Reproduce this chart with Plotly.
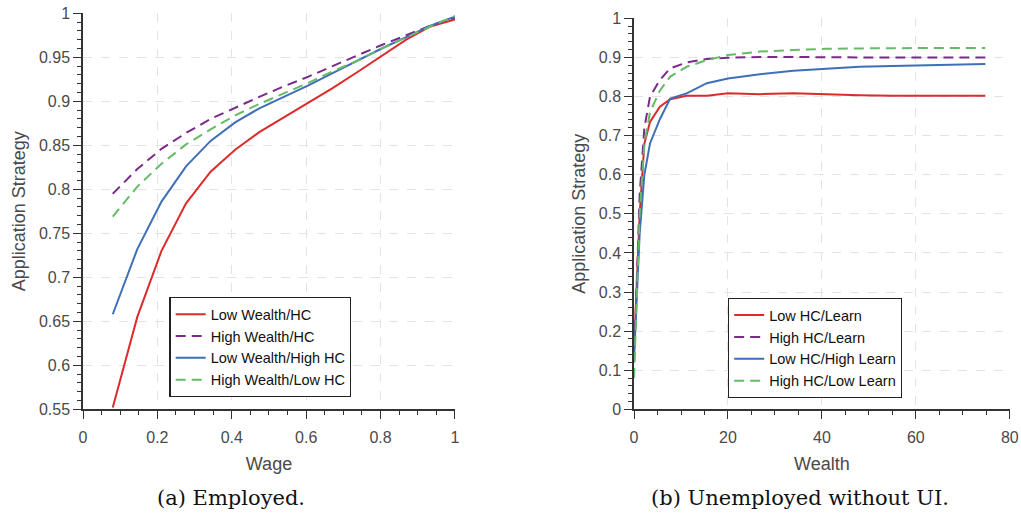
import plotly.graph_objects as go

# Panel (a): Employed
wage = [0.08, 0.146, 0.211, 0.277, 0.343, 0.409, 0.474, 0.54, 0.606, 0.671, 0.737, 0.803, 0.869, 0.934, 1.0]
a_low_wealth_hc = [0.552, 0.655, 0.730, 0.784, 0.820, 0.845, 0.865, 0.882, 0.898, 0.915, 0.933, 0.952, 0.970, 0.985, 0.993]
a_high_wealth_hc = [0.795, 0.823, 0.846, 0.864, 0.880, 0.893, 0.905, 0.917, 0.928, 0.940, 0.952, 0.964, 0.975, 0.986, 0.995]
a_low_wealth_high_hc = [0.658, 0.732, 0.786, 0.826, 0.855, 0.876, 0.892, 0.905, 0.918, 0.932, 0.946, 0.960, 0.973, 0.986, 0.996]
a_high_wealth_low_hc = [0.769, 0.803, 0.829, 0.851, 0.868, 0.884, 0.897, 0.909, 0.921, 0.934, 0.946, 0.960, 0.973, 0.985, 0.997]

# Panel (b): Unemployed without UI
wealth = [0, 0.5, 1.2, 2.2, 3.4, 5.5, 7.7, 11.2, 15.5, 20, 26.8, 33.9, 41, 48, 55, 62, 68.5, 74.8]
b_low_hc_learn = [0.15, 0.30, 0.50, 0.68, 0.735, 0.774, 0.793, 0.802, 0.802, 0.808, 0.806, 0.808, 0.805, 0.803, 0.802, 0.802, 0.802, 0.802]
b_high_hc_learn = [0.12, 0.30, 0.55, 0.72, 0.80, 0.842, 0.872, 0.887, 0.896, 0.899, 0.901, 0.901, 0.900, 0.900, 0.900, 0.900, 0.900, 0.900]
b_low_hc_high_learn = [0.13, 0.25, 0.45, 0.60, 0.68, 0.742, 0.795, 0.808, 0.834, 0.846, 0.857, 0.866, 0.872, 0.876, 0.878, 0.880, 0.882, 0.883]
b_high_hc_low_learn = [0.08, 0.25, 0.50, 0.68, 0.76, 0.815, 0.851, 0.876, 0.893, 0.906, 0.915, 0.919, 0.922, 0.923, 0.924, 0.924, 0.924, 0.924]

a_names = ["Low Wealth/HC", "High Wealth/HC", "Low Wealth/High HC", "High Wealth/Low HC"]
b_names = ["Low HC/Learn", "High HC/Learn", "Low HC/High Learn", "High HC/Low Learn"]

RED = "#dc2b2b"
PURPLE = "#7a2a8a"
BLUE = "#3f6fb6"
GREEN = "#66bb66"
colors = [RED, PURPLE, BLUE, GREEN]
dashes = ["solid", "10px,6px", "solid", "10px,6px"]

fig = go.Figure()

a_series = [a_low_wealth_hc, a_high_wealth_hc, a_low_wealth_high_hc, a_high_wealth_low_hc]
for name, ys, c, d in zip(a_names, a_series, colors, dashes):
    fig.add_trace(go.Scatter(x=wage, y=ys, name=name, mode="lines",
                             line=dict(color=c, width=2, dash=d),
                             xaxis="x", yaxis="y", legend="legend"))

b_series = [b_low_hc_learn, b_high_hc_learn, b_low_hc_high_learn, b_high_hc_low_learn]
for name, ys, c, d in zip(b_names, b_series, colors, dashes):
    fig.add_trace(go.Scatter(x=wealth, y=ys, name=name, mode="lines",
                             line=dict(color=c, width=2, dash=d),
                             xaxis="x2", yaxis="y2", legend="legend2"))

AX = "#333333"
TXT = "#4a4a4a"
GRID = "#e3e3e3"
FONT = "Liberation Sans, Arial, sans-serif"
tickfont = dict(family=FONT, size=16, color=TXT)
titlefont = dict(family=FONT, size=18, color=TXT)

def xaxis(domain, rng, dtick, minor_dtick, title, anchor):
    return dict(domain=domain, range=rng, dtick=dtick, tick0=0, anchor=anchor,
                automargin=False,
                showline=True, linecolor=AX, linewidth=1.5,
                ticks="outside", ticklen=8, tickcolor=AX, tickwidth=1.2,
                ticklabelstandoff=5,
                minor=dict(ticks="outside", ticklen=4, dtick=minor_dtick, tickcolor=AX, showgrid=False),
                showgrid=True, gridcolor=GRID, griddash="dash", gridwidth=1.2,
                zeroline=False, tickfont=tickfont,
                title=dict(text=title, font=titlefont, standoff=12))

def yaxis(domain, rng, dtick, minor_dtick, title, anchor, tick0):
    return dict(domain=domain, range=rng, dtick=dtick, tick0=tick0, anchor=anchor,
                automargin=False,
                showline=True, linecolor=AX, linewidth=1.5,
                ticks="outside", ticklen=8, tickcolor=AX, tickwidth=1.2,
                minor=dict(ticks="outside", ticklen=4, dtick=minor_dtick, tickcolor=AX, showgrid=False),
                showgrid=True, gridcolor=GRID, griddash="dash", gridwidth=1.2,
                zeroline=False, tickfont=tickfont,
                title=dict(text=title, font=titlefont, standoff=9))

legend_common = dict(bgcolor="white", bordercolor="#222222", borderwidth=1.2,
                     font=dict(family=FONT, size=14.5, color="#111111"),
                     xanchor="left", yanchor="top", tracegroupgap=0, itemwidth=30)

fig.update_layout(
    width=1021, height=517,
    margin=dict(l=0, r=0, t=0, b=0),
    paper_bgcolor="white", plot_bgcolor="white",
    showlegend=True,
    xaxis=xaxis([0.0813, 0.4456], [0, 1], 0.2, 0.05, "Wage", "y"),
    yaxis=yaxis([0.2083, 0.9743], [0.55, 1], 0.05, 0.01, "Application Strategy", "x", 0.55),
    xaxis2=xaxis([0.621, 0.989], [0, 80], 20, 5, "Wealth", "y2"),
    yaxis2=yaxis([0.2083, 0.9646], [0, 1], 0.1, 0.02, "Application Strategy", "x2", 0),
    legend=dict(x=0.166, y=0.4255, **legend_common),
    legend2=dict(x=0.713, y=0.4236, **legend_common),
    annotations=[
        dict(text="(a) Employed.", x=0.2267, y=1 - 498 / 517, xref="paper", yref="paper",
             xanchor="center", yanchor="middle", showarrow=False,
             font=dict(family="DejaVu Serif, Liberation Serif, serif", size=21, color="#111111")),
        dict(text="(b) Unemployed without UI.", x=0.7835, y=1 - 498 / 517, xref="paper", yref="paper",
             xanchor="center", yanchor="middle", showarrow=False,
             font=dict(family="DejaVu Serif, Liberation Serif, serif", size=21, color="#111111")),
    ],
)

fig.write_html("out.html")
